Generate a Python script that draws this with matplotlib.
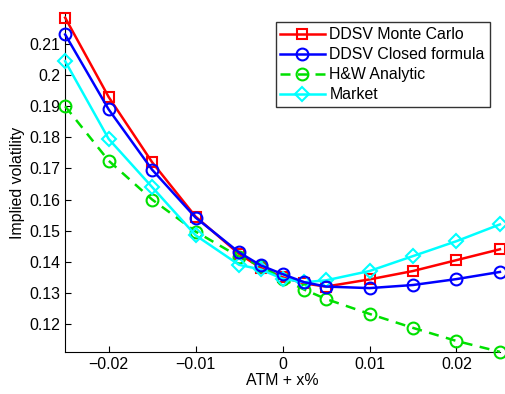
import matplotlib
matplotlib.use("Agg")
from matplotlib import pyplot as plt

x = [-0.025, -0.02, -0.015, -0.01, -0.005, -0.0025, 0, 0.0025, 0.005, 0.01, 0.015, 0.02, 0.025]

monte_carlo = [0.2185, 0.193, 0.172, 0.1545, 0.1425, 0.138, 0.135, 0.133, 0.132, 0.1343, 0.137, 0.1405, 0.144]
closed_formula = [0.2131, 0.189, 0.1696, 0.1542, 0.143, 0.1388, 0.136, 0.1334, 0.132, 0.1315, 0.1325, 0.1344, 0.1367]
hw_analytic = [0.19, 0.1725, 0.16, 0.1497, 0.1416, 0.1387, 0.1345, 0.131, 0.128, 0.1232, 0.1187, 0.1145, 0.111]
market = [0.2045, 0.1795, 0.164, 0.1485, 0.139, 0.1375, 0.1345, 0.1334, 0.134, 0.137, 0.1418, 0.1466, 0.152]

plt.rcParams['font.family'] = ['Liberation Sans', 'DejaVu Sans']
fs = 11.4

fig = plt.figure(figsize=(5.05, 3.94), dpi=100)
ax = fig.add_axes([0.129, 0.107, 0.861, 0.86])

ax.plot(x, monte_carlo, color='red', marker='s', ms=7, mfc='none', mew=1.5, lw=1.8,
        label='DDSV Monte Carlo', clip_on=False, zorder=3)
ax.plot(x, closed_formula, color='blue', marker='o', ms=8.5, mfc='none', mew=1.5, lw=1.8,
        label='DDSV Closed formula', clip_on=False, zorder=4)
ax.plot(x, hw_analytic, color='#00e000', marker='o', ms=8.5, mfc='none', mew=1.5, lw=1.8,
        ls='--', dashes=(4, 3), label='H&W Analytic', clip_on=False, zorder=3)
ax.plot(x, market, color='cyan', marker='D', ms=7, mfc='none', mew=1.5, lw=1.8,
        label='Market', clip_on=False, zorder=3)

ax.set_xlim(-0.025, 0.025)
ax.set_ylim(0.111, 0.22)
ax.set_xticks([-0.02, -0.01, 0, 0.01, 0.02])
ax.set_xticklabels(['\u22120.02', '\u22120.01', '0', '0.01', '0.02'])
ax.set_yticks([0.12, 0.13, 0.14, 0.15, 0.16, 0.17, 0.18, 0.19, 0.2, 0.21])
ax.set_yticklabels(['0.12', '0.13', '0.14', '0.15', '0.16', '0.17', '0.18', '0.19', '0.2', '0.21'])
ax.tick_params(direction='in', length=4, labelsize=fs)
ax.spines['top'].set_visible(False)
ax.spines['right'].set_visible(False)
ax.set_xlabel('ATM + x%', fontsize=fs, labelpad=1)
ax.set_ylabel('Implied volatility', fontsize=fs, labelpad=3)

leg = ax.legend(loc='upper right', bbox_to_anchor=(0.976, 0.972), fontsize=fs, frameon=True,
                fancybox=False, edgecolor='black', handlelength=2.8, borderpad=0.3,
                labelspacing=0.32, handletextpad=0.3, borderaxespad=0)
leg.get_frame().set_linewidth(1.0)

fig.savefig('out.png', dpi=100)
